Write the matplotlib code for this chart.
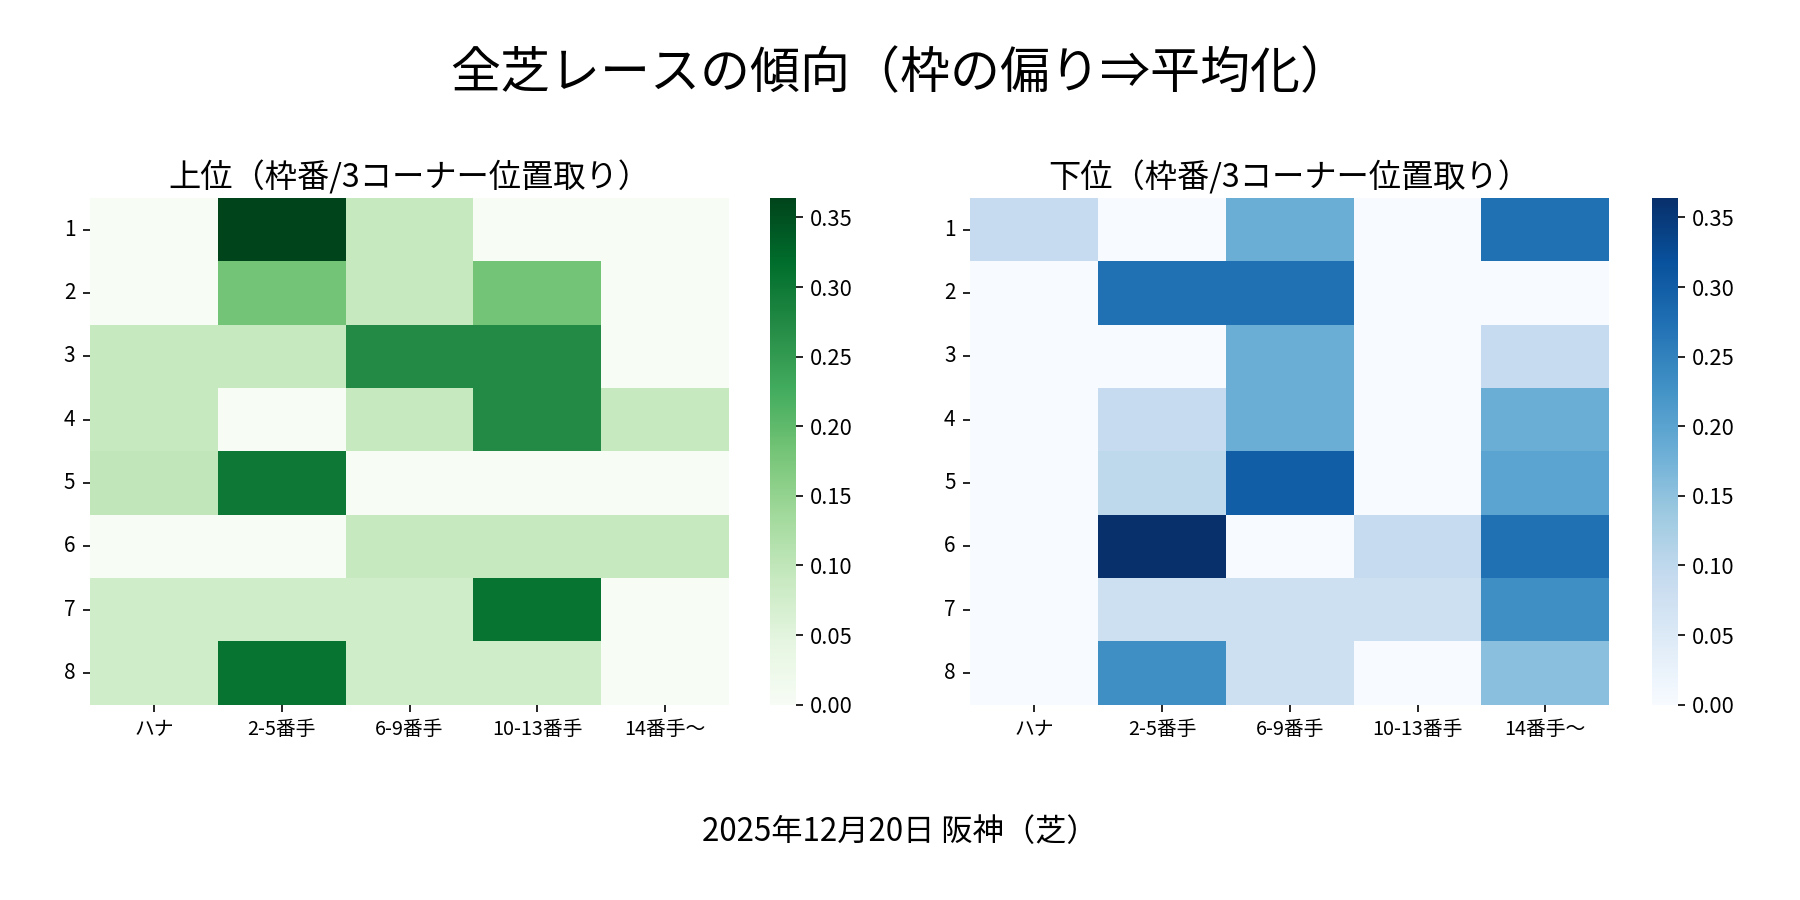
import matplotlib
matplotlib.use("Agg")
import matplotlib.pyplot as plt
import numpy as np
import seaborn as sns

plt.rcParams['font.family'] = ['Noto Sans CJK JP', 'DejaVu Sans']

gates = ["1", "2", "3", "4", "5", "6", "7", "8"]
positions = ["ハナ", "2-5番手", "6-9番手", "10-13番手", "14番手〜"]

# share of horses per gate at each 3rd-corner position
top_vals = [
    [0.000, 0.364, 0.091, 0.000, 0.000],
    [0.000, 0.182, 0.091, 0.182, 0.000],
    [0.091, 0.091, 0.273, 0.273, 0.000],
    [0.091, 0.000, 0.091, 0.273, 0.091],
    [0.100, 0.300, 0.000, 0.000, 0.000],
    [0.000, 0.000, 0.091, 0.091, 0.091],
    [0.077, 0.077, 0.077, 0.308, 0.000],
    [0.077, 0.308, 0.077, 0.077, 0.000],
]
bottom_vals = [
    [0.091, 0.000, 0.182, 0.000, 0.273],
    [0.000, 0.273, 0.273, 0.000, 0.000],
    [0.000, 0.000, 0.182, 0.000, 0.091],
    [0.000, 0.091, 0.182, 0.000, 0.182],
    [0.000, 0.100, 0.300, 0.000, 0.200],
    [0.000, 0.364, 0.000, 0.091, 0.273],
    [0.000, 0.077, 0.077, 0.077, 0.231],
    [0.000, 0.231, 0.077, 0.000, 0.154],
]

fig = plt.figure(figsize=(12, 6), dpi=150)

panels = [
    (top_vals, "Greens", "上位（枠番/3コーナー位置取り）", 0.050, 0.428),
    (bottom_vals, "Blues", "下位（枠番/3コーナー位置取り）", 0.539, 0.918),
]
for vals, cmap, title, x0, cx in panels:
    ax = fig.add_axes([x0, 0.217, 0.355, 0.563])
    cax = fig.add_axes([cx, 0.217, 0.014, 0.563])
    sns.heatmap(np.array(vals), ax=ax, cbar_ax=cax, cmap=cmap,
                xticklabels=positions, yticklabels=gates)
    ax.set_title(title, fontsize=15.5, pad=5)
    ax.tick_params(axis="x", labelsize=9.5, rotation=0)
    ax.tick_params(axis="y", labelsize=10, rotation=0)
    cax.tick_params(labelsize=10.5)

fig.text(0.5, 0.917, "全芝レースの傾向（枠の偏り⇒平均化）", ha="center", va="center", fontsize=24)
fig.text(0.5, 0.075, "2025年12月20日 阪神（芝）", ha="center", va="center", fontsize=15)

fig.savefig("out.png", dpi=150)
